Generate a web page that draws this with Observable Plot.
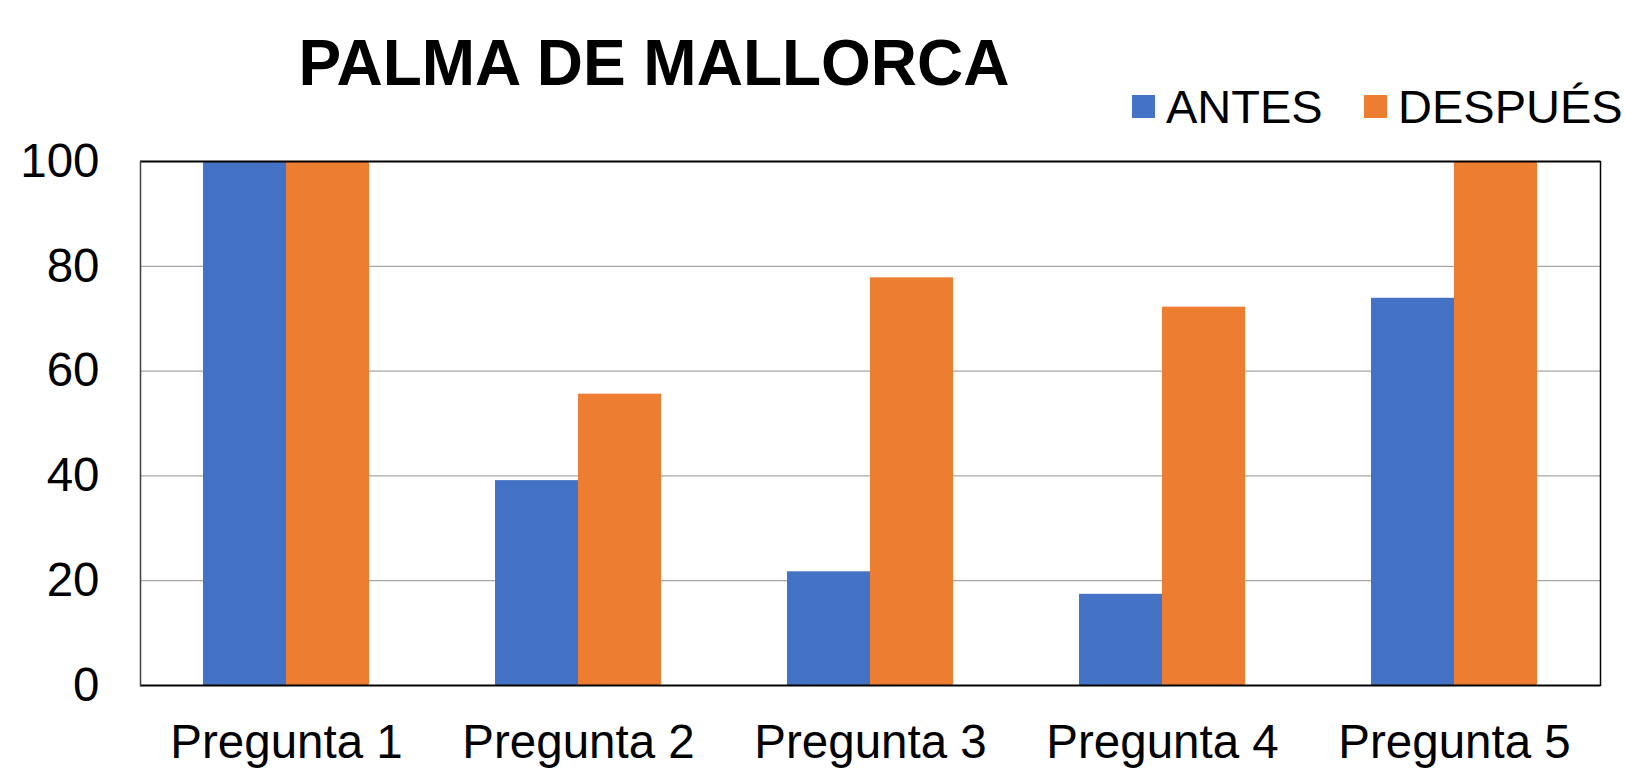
<!DOCTYPE html>
<html>
<head>
<meta charset="utf-8">
<script src="https://cdn.jsdelivr.net/npm/d3@7"></script>
<script src="https://cdn.jsdelivr.net/npm/@observablehq/plot@0.6"></script>
<style>
  html, body { margin: 0; padding: 0; background: #fff; overflow: hidden; width: 1625px; height: 772px; }
  #header { position: relative; width: 1625px; height: 130px; font-family: "Liberation Sans", Arial, sans-serif; }
  #title { position: absolute; left: 0; width: 1308px; top: 31px; text-align: center; font-weight: bold; font-size: 64px; line-height: 64px; white-space: nowrap; color: #000; }
  .leg { position: absolute; top: 83px; display: flex; align-items: center; font-size: 47px; line-height: 47px; white-space: nowrap; color: #000; }
  .sw { width: 23px; height: 23px; margin-right: 11px; }
</style>
</head>
<body>
<div id="header"><div id="title"></div></div>
<div id="chart"></div>
<script>
const title = "PALMA DE MALLORCA";
const categories = ["Pregunta 1", "Pregunta 2", "Pregunta 3", "Pregunta 4", "Pregunta 5"];
const series = ["ANTES", "DESPUÉS"];
const antes = [100, 39.1, 21.7, 17.4, 73.9];
const despues = [100, 55.6, 77.8, 72.2, 100];
const colors = ["#4472C4", "#ED7D31"];
const yTicks = [0, 20, 40, 60, 80, 100];
const legendLeft = [1132, 1364];

document.getElementById("title").textContent = title;
const header = document.getElementById("header");
series.forEach((s, i) => {
  const item = document.createElement("div");
  item.className = "leg";
  item.style.left = legendLeft[i] + "px";
  const sw = document.createElement("div");
  sw.className = "sw";
  sw.style.background = colors[i];
  const t = document.createElement("span");
  t.textContent = s;
  item.appendChild(sw);
  item.appendChild(t);
  header.appendChild(item);
});

const data = categories.flatMap((c, i) => [
  {q: c, s: series[0], v: antes[i]},
  {q: c, s: series[1], v: despues[i]}
]);

const chart = Plot.plot({
  width: 1625,
  height: 642,
  marginTop: 31,
  marginBottom: 87,
  marginLeft: 139,
  marginRight: 24,
  style: {fontFamily: "Liberation Sans, Arial, sans-serif", fontSize: "47.5px", color: "#000", background: "#fff", overflow: "visible"},
  fx: {domain: categories, padding: 0, axis: "bottom", label: null, tickSize: 0, tickPadding: 39},
  x: {domain: series, paddingInner: 0, paddingOuter: 0.745, axis: null},
  y: {domain: [0, 100], ticks: yTicks, tickSize: 0, tickPadding: 41, label: null},
  color: {domain: series, range: colors},
  marks: [
    Plot.ruleY(yTicks.slice(1, -1), {stroke: "#a6a6a6", strokeWidth: 1.3}),
    Plot.barY(data, {fx: "q", x: "s", y: "v", fill: "s"}),
    Plot.ruleY([0], {stroke: "#000", strokeWidth: 2}),
    Plot.ruleY([100], {stroke: "#000", strokeWidth: 2}),
    Plot.frame({anchor: "left", facetAnchor: "left", stroke: "#404040", strokeWidth: 1.5}),
    Plot.frame({anchor: "right", facetAnchor: "right", stroke: "#000", strokeWidth: 1.5})
  ]
});
document.getElementById("chart").appendChild(chart);
</script>
</body>
</html>
